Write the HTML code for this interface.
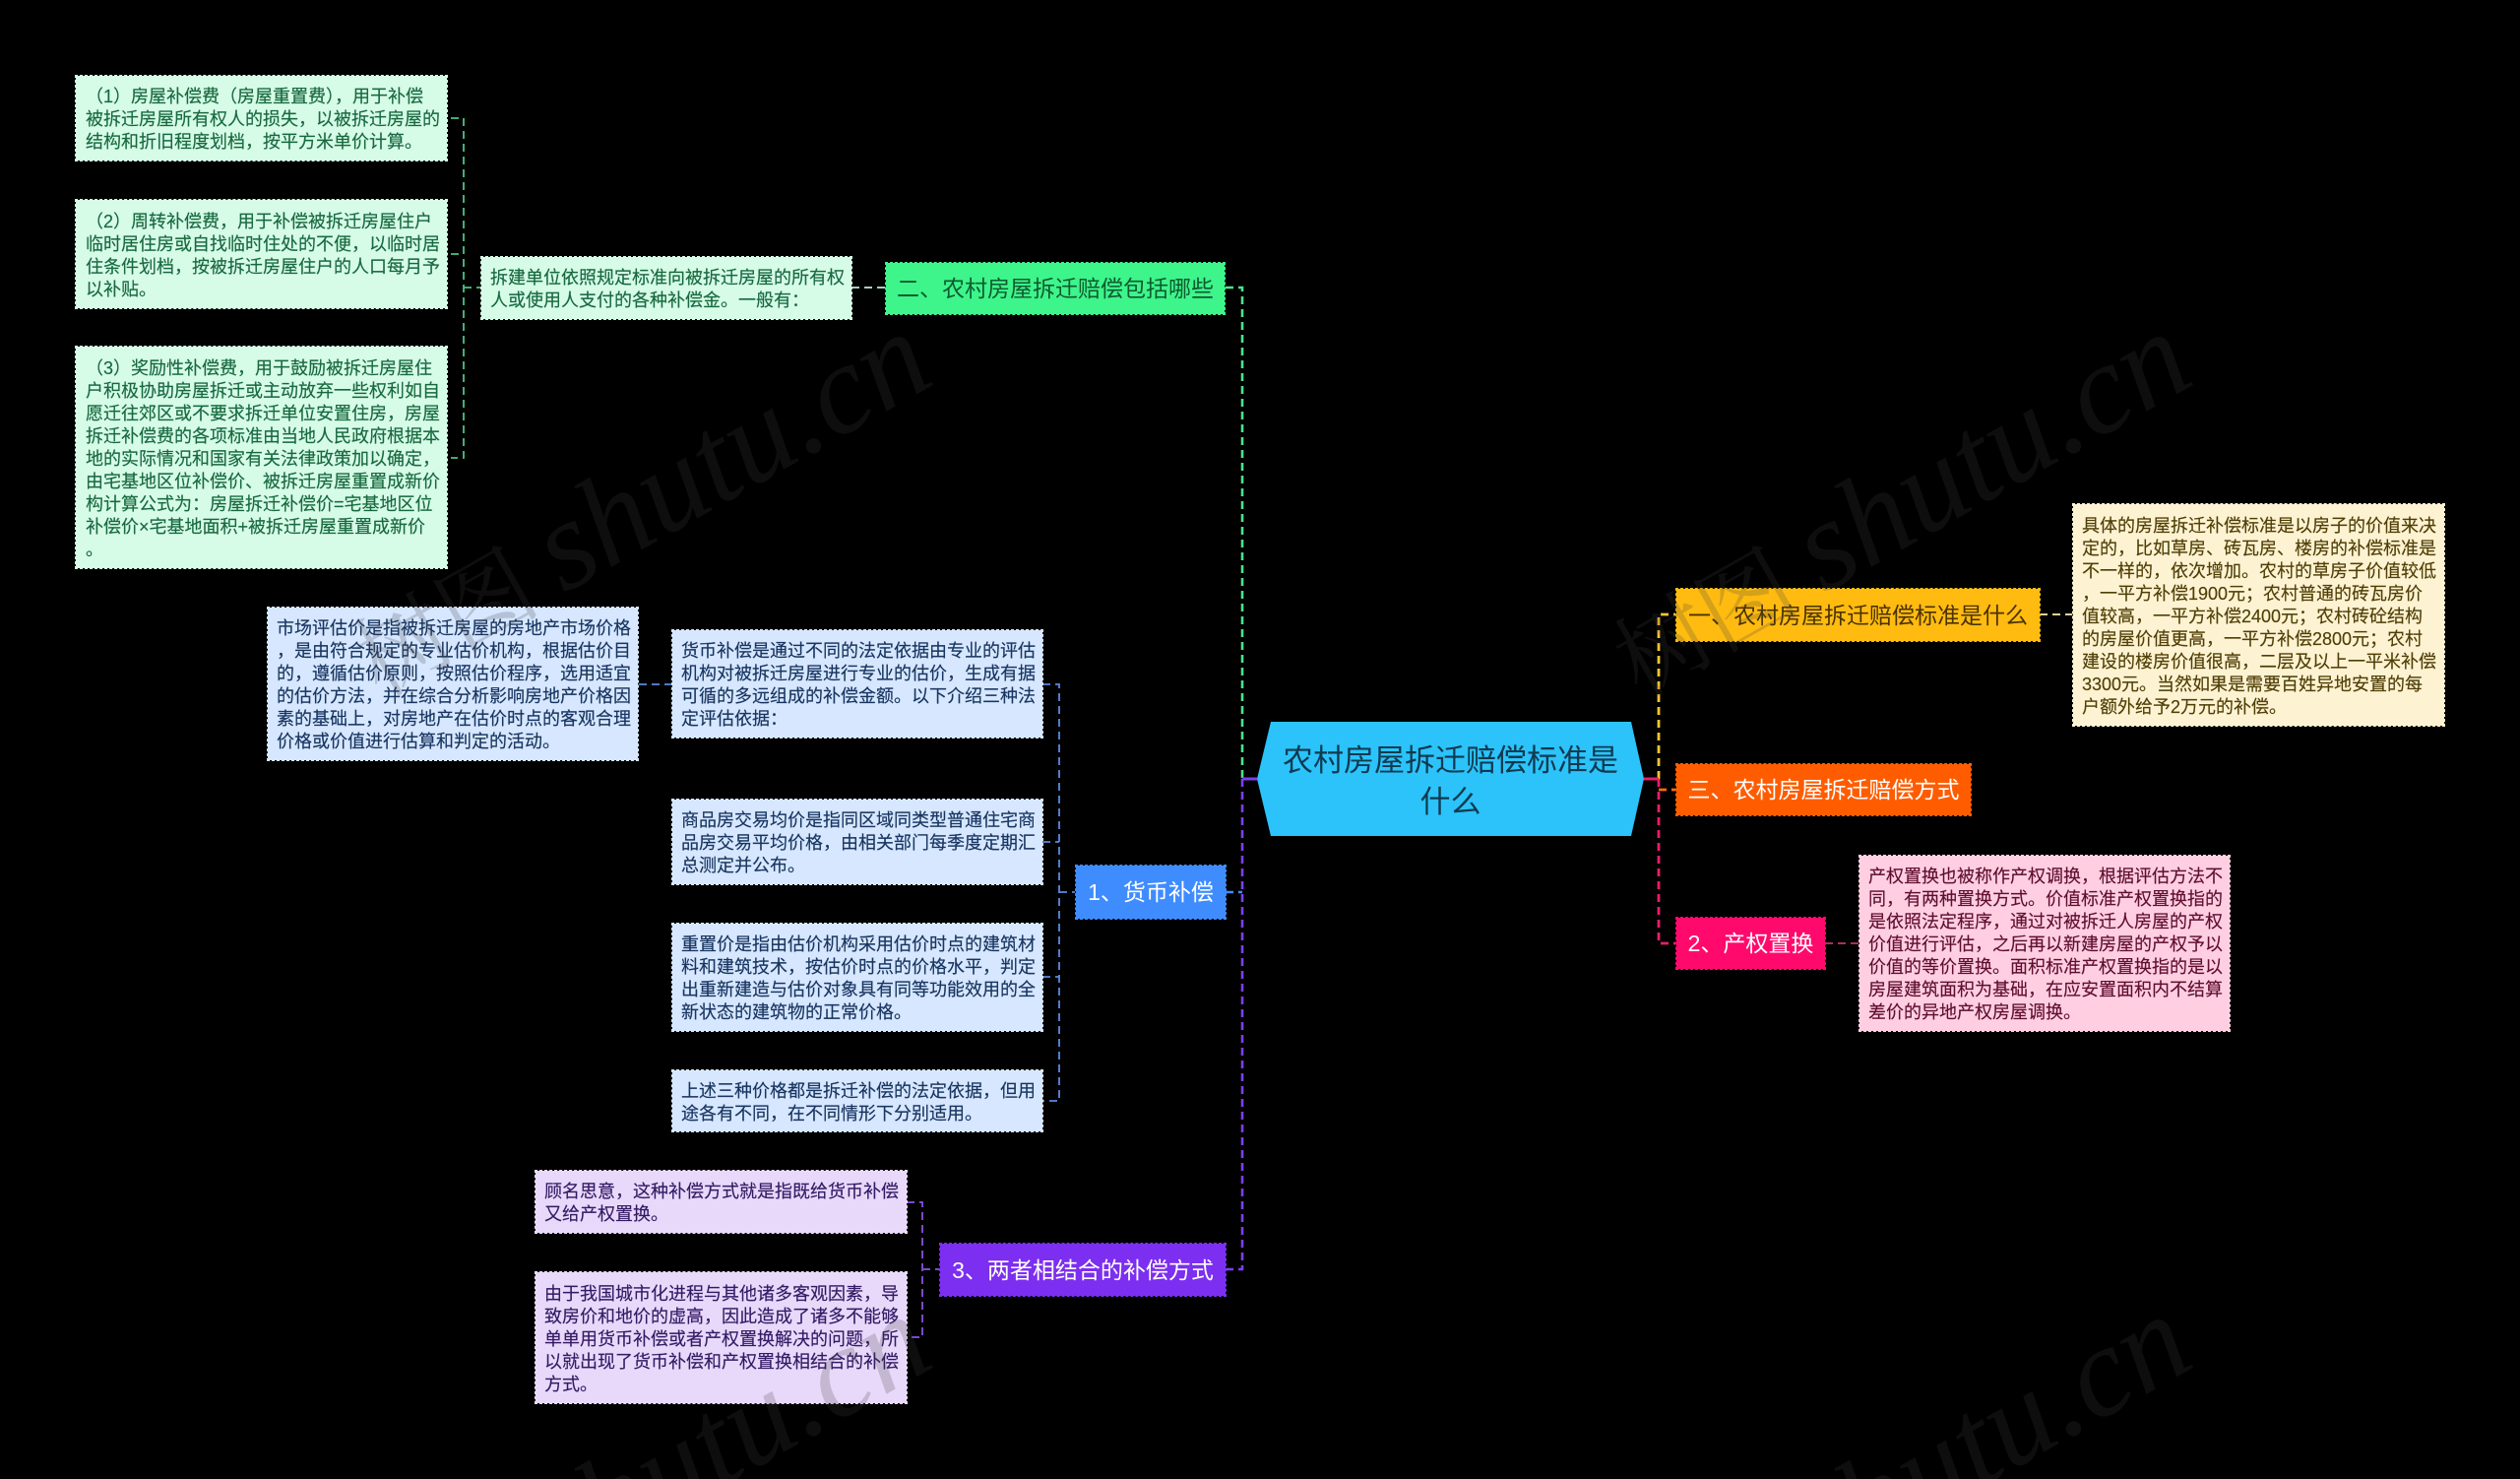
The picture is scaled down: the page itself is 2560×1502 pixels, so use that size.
<!DOCTYPE html>
<html lang="zh-CN"><head><meta charset="utf-8"><title>农村房屋拆迁赔偿标准是什么</title>
<style>
html,body{margin:0;padding:0;background:#000;overflow:hidden;width:2560px;height:1502px;}
#c{position:relative;width:2560px;height:1502px;overflow:hidden;background:#000;font-family:"Liberation Sans","Noto Sans CJK SC",sans-serif;}
.b{position:absolute;box-sizing:border-box;display:flex;align-items:center;white-space:nowrap;font-size:18px;line-height:23px;padding:0 0 0 9px;border:1.5px dashed;background-clip:padding-box;}
.b div{position:relative;top:1.5px;-webkit-text-stroke:.15px currentColor}
.n{position:absolute;box-sizing:border-box;display:flex;align-items:center;justify-content:center;white-space:nowrap;font-size:23px;line-height:28px;border:1.5px dashed;background-clip:padding-box;}
.g{background-color:#d6fbe7;border-color:#d6fbe7;color:#17693f}
.l{background-color:#d6e7ff;border-color:#d6e7ff;color:#183560}
.p{background-color:#e8d9fb;border-color:#e8d9fb;color:#341a64}
.y{background-color:#fdf3d2;border-color:#fdf3d2;color:#503e06}
.k{background-color:#ffcfe1;border-color:#ffcfe1;color:#600e30}
svg{position:absolute;left:0;top:0;display:block}
</style></head><body><div id="c">
<svg width="2560" height="1502" fill="none">
<g stroke-dasharray="8 5">
<path d="M458 120H471V465H458M458 258H471M471 292H488" stroke="#48c483" stroke-width="1.8"/>
<path d="M865 292H899" stroke="#b8f0cf" stroke-width="1.8"/>
<path d="M1245 292H1262V791" stroke="#4de28d" stroke-width="2.6"/>
<path d="M649 695H682" stroke="#5a8ae0" stroke-width="1.8"/>
<path d="M1059 695H1076V1118H1059M1059 855H1076M1059 992H1076M1076 906H1092" stroke="#5a8ae0" stroke-width="1.8"/>
<path d="M1245 906H1262" stroke="#3f8cff" stroke-width="2.6"/>
<path d="M921 1221H937V1358H921M937 1289H954" stroke="#7a4acc" stroke-width="2"/>
<path d="M1262 791V1289H1245" stroke="#7c3ff0" stroke-width="2.6"/>
<path d="M1685 791V624H1702" stroke="#ffc530" stroke-width="2.8"/>
<path d="M2072 624H2105" stroke="#e6cf96" stroke-width="2"/>
<path d="M1685 802H1702" stroke="#ff6a10" stroke-width="2.8"/>
<path d="M1685 791V958H1702" stroke="#e81e6a" stroke-width="2.8"/>
<path d="M1854 958H1888" stroke="#a8305f" stroke-width="2"/>
</g>
<path d="M1262 791H1277" stroke="#7c3ff0" stroke-width="3"/>
<path d="M1670 791H1685" stroke="#e81e6a" stroke-width="3"/>
<polygon points="1291,733 1657,733 1670,791 1657,849 1291,849 1277,791" fill="#2bc3fa"/>
</svg>

<div class="b g" style="left:76px;top:76px;width:379px;height:88px;padding-left:10px"><div>（1）房屋补偿费（房屋重置费），用于补偿<br>被拆迁房屋所有权人的损失，以被拆迁房屋的<br>结构和折旧程度划档，按平方米单价计算。</div></div>
<div class="b g" style="left:76px;top:202px;width:379px;height:112px;padding-left:10px"><div>（2）周转补偿费，用于补偿被拆迁房屋住户<br>临时居住房或自找临时住处的不便，以临时居<br>住条件划档，按被拆迁房屋住户的人口每月予<br>以补贴。</div></div>
<div class="b g" style="left:76px;top:351px;width:379px;height:227px;padding-left:10px"><div>（3）奖励性补偿费，用于鼓励被拆迁房屋住<br>户积极协助房屋拆迁或主动放弃一些权利如自<br>愿迁往郊区或不要求拆迁单位安置住房，房屋<br>拆迁补偿费的各项标准由当地人民政府根据本<br>地的实际情况和国家有关法律政策加以确定，<br>由宅基地区位补偿价、被拆迁房屋重置成新价<br>构计算公式为：房屋拆迁补偿价=宅基地区位<br>补偿价×宅基地面积+被拆迁房屋重置成新价<br>。</div></div>
<div class="b g" style="left:488px;top:260px;width:378px;height:65px"><div>拆建单位依照规定标准向被拆迁房屋的所有权<br>人或使用人支付的各种补偿金。一般有：</div></div>
<div class="n" style="left:899px;top:266px;width:346px;height:54px;background-color:#3df58a;border-color:#3df58a;color:#0f5a30">二、农村房屋拆迁赔偿包括哪些</div>

<div class="b l" style="left:271px;top:616px;width:378px;height:157px"><div>市场评估价是指被拆迁房屋的房地产市场价格<br>，是由符合规定的专业估价机构，根据估价目<br>的，遵循估价原则，按照估价程序，选用适宜<br>的估价方法，并在综合分析影响房地产价格因<br>素的基础上，对房地产在估价时点的客观合理<br>价格或价值进行估算和判定的活动。</div></div>
<div class="b l" style="left:682px;top:639px;width:378px;height:111px"><div>货币补偿是通过不同的法定依据由专业的评估<br>机构对被拆迁房屋进行专业的估价，生成有据<br>可循的多远组成的补偿金额。以下介绍三种法<br>定评估依据：</div></div>
<div class="b l" style="left:682px;top:811px;width:378px;height:88px"><div>商品房交易均价是指同区域同类型普通住宅商<br>品房交易平均价格，由相关部门每季度定期汇<br>总测定并公布。</div></div>
<div class="b l" style="left:682px;top:937px;width:378px;height:111px"><div>重置价是指由估价机构采用估价时点的建筑材<br>料和建筑技术，按估价时点的价格水平，判定<br>出重新建造与估价对象具有同等功能效用的全<br>新状态的建筑物的正常价格。</div></div>
<div class="b l" style="left:682px;top:1086px;width:378px;height:64px"><div>上述三种价格都是拆迁补偿的法定依据，但用<br>途各有不同，在不同情形下分别适用。</div></div>
<div class="n" style="left:1092px;top:878px;width:154px;height:56px;background-color:#3f8cff;border-color:#3f8cff;color:#fff">1、货币补偿</div>

<div class="b p" style="left:543px;top:1188px;width:379px;height:65px"><div>顾名思意，这种补偿方式就是指既给货币补偿<br>又给产权置换。</div></div>
<div class="b p" style="left:543px;top:1291px;width:379px;height:135px"><div>由于我国城市化进程与其他诸多客观因素，导<br>致房价和地价的虚高，因此造成了诸多不能够<br>单单用货币补偿或者产权置换解决的问题，所<br>以就出现了货币补偿和产权置换相结合的补偿<br>方式。</div></div>
<div class="n" style="left:954px;top:1262px;width:292px;height:55px;background-color:#7c2ff0;border-color:#7c2ff0;color:#fff">3、两者相结合的补偿方式</div>

<div style="position:absolute;left:1277px;top:736px;width:393px;height:116px;display:flex;align-items:center;justify-content:center;text-align:center;font-size:31px;line-height:42px;color:#0f3a50">农村房屋拆迁赔偿标准是<br>什么</div>

<div class="n" style="left:1702px;top:597px;width:371px;height:55px;background-color:#ffbb10;border-color:#ffbb10;color:#4a3300">一、农村房屋拆迁赔偿标准是什么</div>
<div class="b y" style="left:2105px;top:511px;width:379px;height:227px"><div>具体的房屋拆迁补偿标准是以房子的价值来决<br>定的，比如草房、砖瓦房、楼房的补偿标准是<br>不一样的，依次增加。农村的草房子价值较低<br>，一平方补偿1900元；农村普通的砖瓦房价<br>值较高，一平方补偿2400元；农村砖砼结构<br>的房屋价值更高，一平方补偿2800元；农村<br>建设的楼房价值很高，二层及以上一平米补偿<br>3300元。当然如果是需要百姓异地安置的每<br>户额外给予2万元的补偿。</div></div>
<div class="n" style="left:1702px;top:775px;width:301px;height:54px;background-color:#ff5c00;border-color:#ff5c00;color:#fff">三、农村房屋拆迁赔偿方式</div>
<div class="n" style="left:1702px;top:931px;width:153px;height:54px;background-color:#ff0a6c;border-color:#ff0a6c;color:#fff">2、产权置换</div>
<div class="b k" style="left:1888px;top:868px;width:378px;height:180px"><div>产权置换也被称作产权调换，根据评估方法不<br>同，有两种置换方式。价值标准产权置换指的<br>是依照法定程序，通过对被拆迁人房屋的产权<br>价值进行评估，之后再以新建房屋的产权予以<br>价值的等价置换。面积标准产权置换指的是以<br>房屋建筑面积为基础，在应安置面积内不结算<br>差价的异地产权房屋调换。</div></div>

<svg width="2560" height="1502" viewBox="0 0 2560 1502" style="pointer-events:none;overflow:hidden">
<g fill="#424242" fill-opacity=".22" text-anchor="end">
<text transform="translate(953 388) rotate(-29.5)"><tspan font-family="'Noto Serif CJK SC',serif" font-size="95">树图 </tspan><tspan font-family="'Liberation Serif',serif" font-style="italic" font-size="130">shutu.cn</tspan></text>
<text transform="translate(2233 388) rotate(-29.5)"><tspan font-family="'Noto Serif CJK SC',serif" font-size="95">树图 </tspan><tspan font-family="'Liberation Serif',serif" font-style="italic" font-size="130">shutu.cn</tspan></text>
<text transform="translate(953 1386) rotate(-29.5)"><tspan font-family="'Liberation Serif',serif" font-style="italic" font-size="130">shutu.cn</tspan></text>
<text transform="translate(2233 1386) rotate(-29.5)"><tspan font-family="'Liberation Serif',serif" font-style="italic" font-size="130">shutu.cn</tspan></text>
</g>
</svg>
</div></body></html>
